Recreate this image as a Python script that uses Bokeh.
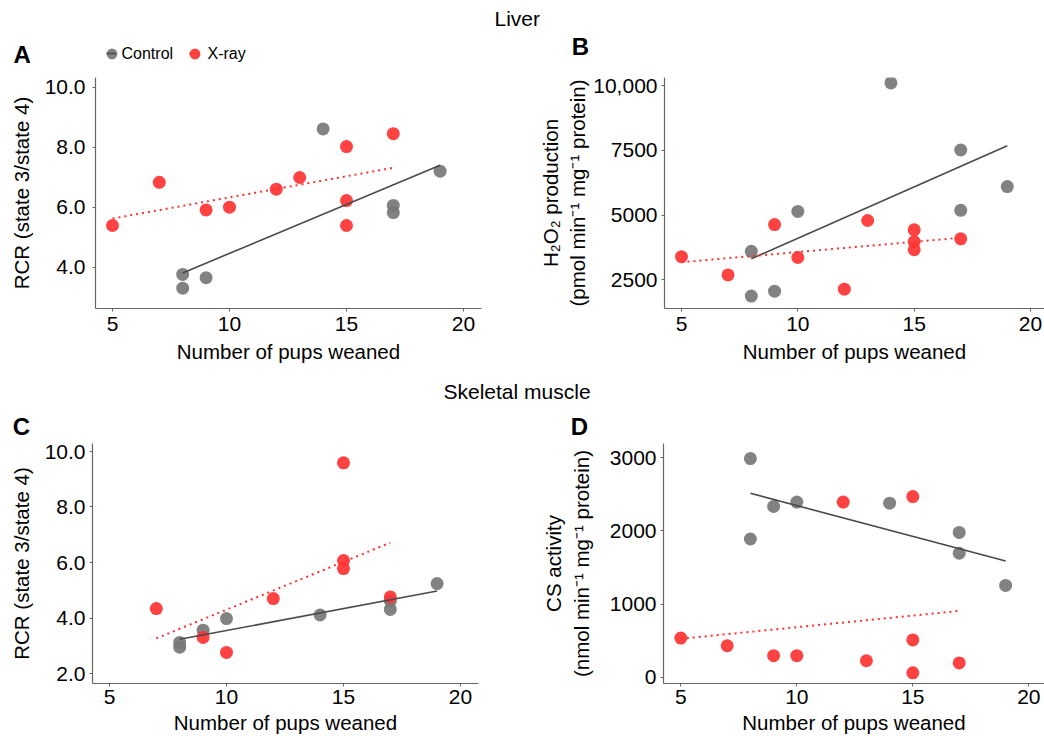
import numpy as np
from bokeh.plotting import figure
from bokeh.models import Range1d, FixedTicker, Legend, LegendItem
from bokeh.layouts import column, row
from bokeh.core.properties import value
from bokeh.embed import file_html
from bokeh.resources import INLINE

# ---------------- data ----------------
x_ticks = [5, 10, 15, 20]
x_label = "Number of pups weaned"
group_names = ["Control", "X-ray"]

# A: Liver RCR
a_ctrl_pups = [8, 8, 9, 14, 17, 17, 19]
a_ctrl_val = [3.77, 3.31, 3.66, 8.62, 6.07, 5.83, 7.21]
a_xray_pups = [5, 7, 9, 10, 12, 13, 15, 15, 15, 17]
a_xray_val = [5.40, 6.84, 5.92, 6.01, 6.61, 7.00, 8.03, 6.23, 5.40, 8.46]
a_ticks = [4, 6, 8, 10]
a_tick_labels = ["4.0", "6.0", "8.0", "10.0"]

# B: Liver H2O2 production
b_ctrl_pups = [8, 8, 9, 10, 14, 17, 17, 19]
b_ctrl_val = [3600, 1870, 2060, 5140, 10100, 7510, 5180, 6100]
b_xray_pups = [5, 7, 9, 10, 12, 13, 15, 15, 15, 17]
b_xray_val = [3390, 2690, 4630, 3360, 2140, 4790, 4430, 3970, 3660, 4080]
b_ticks = [2500, 5000, 7500, 10000]
b_tick_labels = ["2500", "5000", "7500", "10,000"]

# C: Skeletal muscle RCR
c_ctrl_pups = [8, 8, 9, 10, 14, 17, 17, 19]
c_ctrl_val = [3.12, 2.95, 3.56, 3.98, 4.11, 4.61, 4.31, 5.24]
c_xray_pups = [7, 9, 10, 12, 15, 15, 15, 17]
c_xray_val = [4.34, 3.30, 2.76, 4.70, 9.59, 6.07, 5.78, 4.76]
c_ticks = [2, 4, 6, 8, 10]
c_tick_labels = ["2.0", "4.0", "6.0", "8.0", "10.0"]

# D: Skeletal muscle CS activity
d_ctrl_pups = [8, 8, 9, 10, 14, 17, 17, 19]
d_ctrl_val = [2990, 1890, 2335, 2395, 2380, 1980, 1695, 1255]
d_xray_pups = [5, 7, 9, 10, 12, 13, 15, 15, 15, 17]
d_xray_val = [535, 430, 295, 295, 2395, 225, 2470, 510, 60, 195]
d_ticks = [0, 1000, 2000, 3000]
d_tick_labels = ["0", "1000", "2000", "3000"]

# ---------------- style ----------------
FONT = "Liberation Sans"
CTRL = "#777777"
XRAY = "#ff3333"
CTRL_LINE = "#4a4a4a"
XRAY_LINE = "#ff3030"
AXC = "#666666"
PT_SIZE = 13
XRAY_DASH = "2 4"


def put_text(p, x, y, text, size, bold=False):
    p.text(x=[x], y=[y], text=[text], text_font=value(FONT),
           text_font_size=value(size),
           text_font_style="bold" if bold else "normal",
           text_align="left", text_baseline="middle", text_color="black")


def blank_fig(w, h):
    p = figure(width=w, height=h, toolbar_location=None, output_backend="svg",
               x_range=Range1d(0, w), y_range=Range1d(h, 0), min_border=0,
               x_axis_type=None, y_axis_type=None)
    p.outline_line_color = None
    p.grid.visible = False
    return p


def fit_line(p, x, y, color, dash, width):
    k, b = np.polyfit(x, y, 1)
    xs = [min(x), max(x)]
    ys = [k * v + b for v in xs]
    return p.line(xs, ys, line_color=color, line_dash=dash, line_width=width)


def panel(w, h, borders, xr, yr, yticks, ylabels, ylabel, std, cx, cy, xx, xy):
    bl, br, bt, bb = borders
    ymaj, ylab, xmaj, xlab = std
    p = figure(width=w, height=h, x_range=Range1d(*xr), y_range=Range1d(*yr),
               toolbar_location=None, output_backend="svg",
               min_border_left=bl, min_border_right=br,
               min_border_top=bt, min_border_bottom=bb)
    p.outline_line_color = None
    p.grid.visible = False
    p.xaxis.ticker = FixedTicker(ticks=x_ticks)
    p.yaxis.ticker = FixedTicker(ticks=yticks)
    p.yaxis.major_label_overrides = {t: l for t, l in zip(yticks, ylabels)}
    p.xaxis.axis_label = x_label
    p.yaxis.axis_label = ylabel
    for ax in p.axis:
        ax.axis_line_color = AXC
        ax.axis_line_width = 1.2
        ax.major_tick_line_color = AXC
        ax.minor_tick_line_color = None
        ax.major_tick_out = 3
        ax.major_tick_in = 0
        ax.major_label_text_font = FONT
        ax.major_label_text_font_size = "21px"
        ax.major_label_text_color = "black"
        ax.axis_label_text_font = FONT
        ax.axis_label_text_font_size = "20.5px"
        ax.axis_label_text_font_style = "normal"
        ax.axis_label_text_color = "black"
    p.yaxis.major_label_standoff = ymaj
    p.yaxis.axis_label_standoff = ylab
    p.xaxis.major_label_standoff = xmaj
    p.xaxis.axis_label_standoff = xlab

    p.scatter(cx, cy, size=PT_SIZE, fill_color=CTRL, fill_alpha=0.92, line_color=None)
    p.scatter(xx, xy, size=PT_SIZE, fill_color=XRAY, fill_alpha=0.92, line_color=None)
    fit_line(p, cx, cy, CTRL_LINE, "solid", 1.6)
    fit_line(p, xx, xy, XRAY_LINE, XRAY_DASH, 2)
    return p


# ---- top strip: title, panel letters A/B, legend ----
t1 = blank_fig(1044, 69)
put_text(t1, 494, 17.5, "Liver", "21px")
put_text(t1, 13, 53.7, "A", "24px", bold=True)
put_text(t1, 571.3, 46.4, "B", "24px", bold=True)

# legend swatches: hidden renderers carrying the panel-A data, only their legend glyphs show
dc = t1.scatter(a_ctrl_pups, a_ctrl_val, size=PT_SIZE, fill_color=CTRL, fill_alpha=0.92,
                line_color=None, visible=False)
dx = t1.scatter(a_xray_pups, a_xray_val, size=PT_SIZE, fill_color=XRAY, fill_alpha=0.92,
                line_color=None, visible=False)
lc = t1.line(a_ctrl_pups, a_ctrl_val, line_color=CTRL_LINE, line_width=1.6, visible=False)
lx = t1.line(a_xray_pups, a_xray_val, line_color=XRAY_LINE, line_width=2,
             line_dash=XRAY_DASH, visible=False)

leg_common = dict(orientation="horizontal", padding=0, margin=0,
                  border_line_color=None, background_fill_alpha=0,
                  inactive_fill_alpha=0, label_standoff=0, label_width=1,
                  label_text_font=FONT, label_text_font_size="1px",
                  label_text_color="black")
swatches = [(dc, 97.5, 2.5, 27, 27), (dx, 180.5, 2.5, 27, 27),
            (lc, 106, 10, 10, 12), (lx, 189, 10, 10, 12)]
for rend, vx, vy, gw, gh in swatches:
    t1.add_layout(Legend(items=[LegendItem(label=" ", renderers=[rend])],
                         location=(vx, vy), glyph_width=gw, glyph_height=gh,
                         label_height=gh, **leg_common))
put_text(t1, 121, 53, group_names[0], "16px")
put_text(t1, 207, 53, group_names[1], "16px")

# ---- row 1 (frames share top 77 / bottom 308) ----
pa = panel(520, 296, (95, 39, 8, 57), (4.2735, 20.769), (2.633, 10.333),
           a_ticks, a_tick_labels, "RCR (state 3/state 4)", (7, 9, 5, 6),
           a_ctrl_pups, a_ctrl_val, a_xray_pups, a_xray_val)

pb = panel(524, 296, (144, 0, 8, 57), (4.2695, 20.60), (1392.2, 10308.8),
           b_ticks, b_tick_labels,
           "H\u2082O\u2082 production\n(pmol min\u207b\u00b9 mg\u207b\u00b9 protein)", (4, 1, 5, 6),
           b_ctrl_pups, b_ctrl_val, b_xray_pups, b_xray_val)

# ---- middle strip: title, panel letters C/D ----
t2 = blank_fig(1044, 74)
put_text(t2, 443, 26, "Skeletal muscle", "21px")
put_text(t2, 12.3, 60.5, "C", "24px", bold=True)
put_text(t2, 570.3, 60.5, "D", "24px", bold=True)

# ---- row 2 (frames share top 443 / bottom 683) ----
pc = panel(520, 297, (92, 42, 4, 53), (4.2735, 20.769), (1.640, 10.288),
           c_ticks, c_tick_labels, "RCR (state 3/state 4)", (4, 9, 3, 4),
           c_ctrl_pups, c_ctrl_val, c_xray_pups, c_xray_val)

pd_ = panel(524, 297, (143, 0, 4, 53), (4.254, 20.676), (-86.1, 3195.5),
            d_ticks, d_tick_labels,
            "CS activity\n(nmol min\u207b\u00b9 mg\u207b\u00b9 protein)", (4, 14, 3, 4),
            d_ctrl_pups, d_ctrl_val, d_xray_pups, d_xray_val)

layout = column(t1, row(pa, pb), t2, row(pc, pd_))
open("out.html", "w").write(file_html(layout, INLINE))
